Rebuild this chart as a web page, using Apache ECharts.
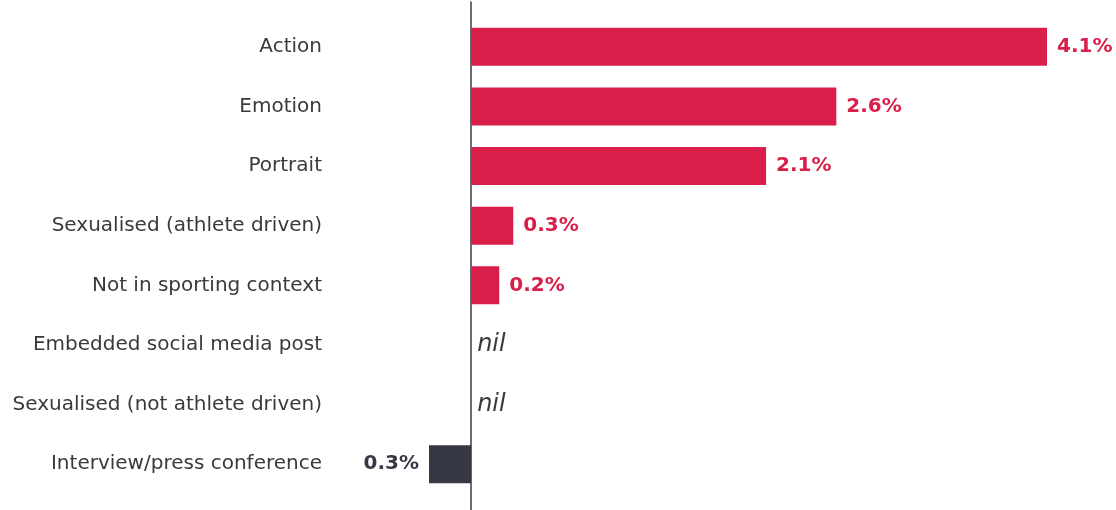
<!DOCTYPE html>
<html>
<head>
<meta charset="utf-8">
<script src="https://cdn.jsdelivr.net/npm/echarts@6/dist/echarts.min.js"></script>
<style>
  html, body { margin: 0; padding: 0; background: #fff; }
  #chart { width: 1116px; height: 510px; }
</style>
</head>
<body>
<div id="chart"></div>
<script>
var categories = [
  'Action',
  'Emotion',
  'Portrait',
  'Sexualised (athlete driven)',
  'Not in sporting context',
  'Embedded social media post',
  'Sexualised (not athlete driven)',
  'Interview/press conference'
]
var shares = [4.1, 2.6, 2.1, 0.3, 0.2, 0, 0, -0.3]

var RED = '#d81e49'
var DARK = '#363945'
var FONT = 'DejaVu Sans'

var barData = []
for (var i = 0; i < shares.length; i++) {
  var v = shares[i]
  barData.push({
    value: v,
    itemStyle: { color: v < 0 ? DARK : RED },
    label: { position: v < 0 ? 'left' : 'right' }
  })
}

var chart = echarts.init(document.getElementById('chart'))
var option = {
  animation: false,
  textStyle: { fontFamily: FONT },
  grid: [
    { left: 429, right: 69, top: 17, bottom: 16, containLabel: false },
    { left: 429, right: 69, top: 2, bottom: 0, containLabel: false }
  ],
  xAxis: [
    { type: 'value', gridIndex: 0, min: -0.3, max: 4.1, show: false },
    { type: 'value', gridIndex: 1, min: -0.3, max: 4.1, show: false }
  ],
  yAxis: [
    {
      type: 'category',
      gridIndex: 0,
      inverse: true,
      data: categories,
      axisLine: { show: false },
      axisTick: { show: false },
      splitLine: { show: false },
      axisLabel: {
        margin: 107,
        fontSize: 20,
        color: '#3a3a3a',
        fontFamily: FONT
      }
    },
    {
      type: 'category',
      gridIndex: 1,
      data: [],
      axisLine: { show: true, onZero: true, lineStyle: { color: '#3a3d48', width: 1.5 } },
      axisTick: { show: false },
      axisLabel: { show: false },
      splitLine: { show: false }
    }
  ],
  series: [
    {
      type: 'bar',
      xAxisIndex: 0,
      yAxisIndex: 0,
      barWidth: 38,
      data: barData,
      label: {
        show: true,
        distance: 10,
        formatter: function (p) {
          if (p.value === 0) return '{nil|nil}'
          if (p.value < 0) return '{neg|' + Math.abs(p.value).toFixed(1) + '%}'
          return '{pos|' + p.value.toFixed(1) + '%}'
        },
        rich: {
          pos: { color: RED, fontSize: 20, fontWeight: 'bold', fontFamily: FONT },
          neg: { color: DARK, fontSize: 20, fontWeight: 'bold', fontFamily: FONT },
          nil: { color: '#3a3a3a', fontSize: 24, fontStyle: 'italic', fontFamily: FONT, padding: [0, 0, 0, -4] }
        }
      }
    }
  ]
}
chart.setOption(option)
</script>
</body>
</html>
